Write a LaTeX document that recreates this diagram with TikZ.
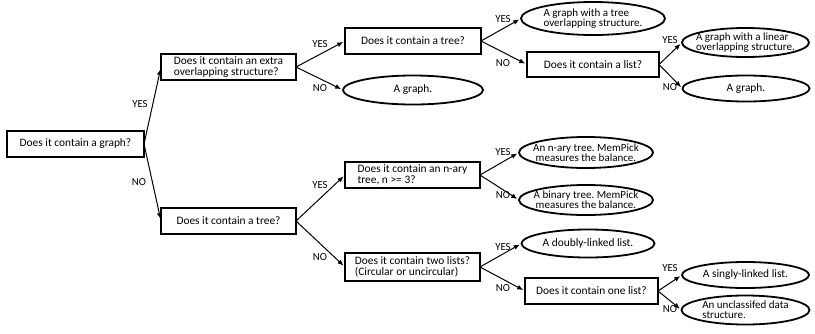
\documentclass[tikz,border=0pt]{standalone}
\usepackage{fontspec}
\setmainfont{Carlito}
\frenchspacing
\usetikzlibrary{arrows.meta,shapes.geometric}
\begin{document}
\begin{tikzpicture}[x=1pt,y=-1pt,
  every node/.style={inner sep=0pt, outer sep=0pt},
  txt/.style={font=\fontsize{11.4}{11}\selectfont},
  ltxt/.style={font=\fontsize{11}{10}\selectfont},
  qbox/.style={txt, draw, line width=1.2pt, rectangle, minimum height=26pt},
  leaf/.style={draw, line width=1.8pt, ellipse, inner sep=0pt},
  lbl/.style={font=\fontsize{10.8}{10.8}\selectfont},
  arr/.style={line width=1pt, -{Latex[length=6pt,width=5pt]}, shorten >=2pt}
]
\useasboundingbox (0,0) rectangle (815,333);

% decision boxes
\node[qbox, minimum width=137pt] (graph) at (75.5,144) {Does it contain a graph?};
\node[qbox, minimum width=135pt, align=left] (extra) at (228.5,67) {Does it contain an extra\\overlapping structure?};
\node[qbox, minimum width=135pt] (tree2) at (228.5,221) {Does it contain a tree?};
\node[qbox, minimum width=136pt] (tree3) at (413,41) {Does it contain a tree?};
\node[qbox, minimum width=135pt, align=left] (nary) at (412.5,175) {Does it contain an n-ary\\tree, n >= 3?};
\node[qbox, minimum width=135pt, minimum height=28pt, align=left] (twol) at (412.5,267) {Does it contain two lists?\\(Circular or uncircular)};
\node[qbox, minimum width=132pt, minimum height=25pt] (list) at (593,64.5) {Does it contain a list?};
\node[qbox, minimum width=133pt] (onel) at (591.5,291) {Does it contain one list?};

% outcome ellipses
\node[leaf, minimum width=140pt, minimum height=29pt] (graphA) at (413,90) {};
\node[leaf, minimum width=144pt, minimum height=33pt] (treeov) at (593,18.5) {};
\node[leaf, minimum width=127pt, minimum height=29pt] (linear) at (745.5,42.5) {};
\node[leaf, minimum width=127pt, minimum height=26pt] (graphB) at (746,88.5) {};
\node[leaf, minimum width=134pt, minimum height=31pt] (naryT) at (586,152.5) {};
\node[leaf, minimum width=134pt, minimum height=30pt] (binT) at (586,200) {};
\node[leaf, minimum width=133pt, minimum height=28pt] (dbl) at (588,243.5) {};
\node[leaf, minimum width=127pt, minimum height=26pt] (sgl) at (745.5,275) {};
\node[leaf, minimum width=128pt, minimum height=29pt] (unc) at (745.5,310) {};

% outcome texts
\node[txt] (graphA-t) at (graphA) {A graph.};
\node[ltxt, align=left] (treeov-t) at (treeov) {A graph with a tree\\overlapping structure.};
\node[ltxt, align=left] (linear-t) at (linear) {A graph with a linear\\overlapping structure.};
\node[txt] (graphB-t) at (graphB) {A graph.};
\node[ltxt, align=center] (naryT-t) at (naryT) {An n-ary tree. MemPick\\measures the balance.};
\node[ltxt, align=center] (binT-t) at (binT) {A binary tree. MemPick\\measures the balance.};
\node[txt] (dbl-t) at (dbl) {A doubly-linked list.};
\node[txt] (sgl-t) at (sgl) {A singly-linked list.};
\node[ltxt, align=left] (unc-t) at (unc) {An unclassifed data\\structure.};

% connectors
\draw[arr] (graph.east) -- (extra.west);
\draw[arr] (graph.east) -- (tree2.west);
\draw[arr] (extra.east) -- (tree3.west);
\draw[arr] (extra.east) -- (graphA.west);
\draw[arr] (tree3.east) -- (treeov.west);
\draw[arr] (tree3.east) -- (list.west);
\draw[arr] (list.east) -- (linear.west);
\draw[arr] (list.east) -- (graphB.west);
\draw[arr] (tree2.east) -- (nary.west);
\draw[arr] (tree2.east) -- (twol.west);
\draw[arr] (nary.east) -- (naryT.west);
\draw[arr] (nary.east) -- (binT.west);
\draw[arr] (twol.east) -- (dbl.west);
\draw[arr] (twol.east) -- (onel.west);
\draw[arr] (onel.east) -- (sgl.west);
\draw[arr] (onel.east) -- (unc.west);

% branch labels
\node[lbl] (y1) at (140,104) {YES};
\node[lbl] (n1) at (139,182) {NO};
\node[lbl] (y2) at (320,44) {YES};
\node[lbl] (n2) at (320,88) {NO};
\node[lbl] (y3) at (503,19) {YES};
\node[lbl] (n3) at (503,63) {NO};
\node[lbl] (y4) at (670,40) {YES};
\node[lbl] (n4) at (670,87) {NO};
\node[lbl] (y5) at (320,185) {YES};
\node[lbl] (n5) at (320,257) {NO};
\node[lbl] (y6) at (503,152) {YES};
\node[lbl] (n6) at (503,195) {NO};
\node[lbl] (y7) at (503,247) {YES};
\node[lbl] (n7) at (503,288) {NO};
\node[lbl] (y8) at (670,268) {YES};
\node[lbl] (n8) at (670,309) {NO};
\end{tikzpicture}
\end{document}
